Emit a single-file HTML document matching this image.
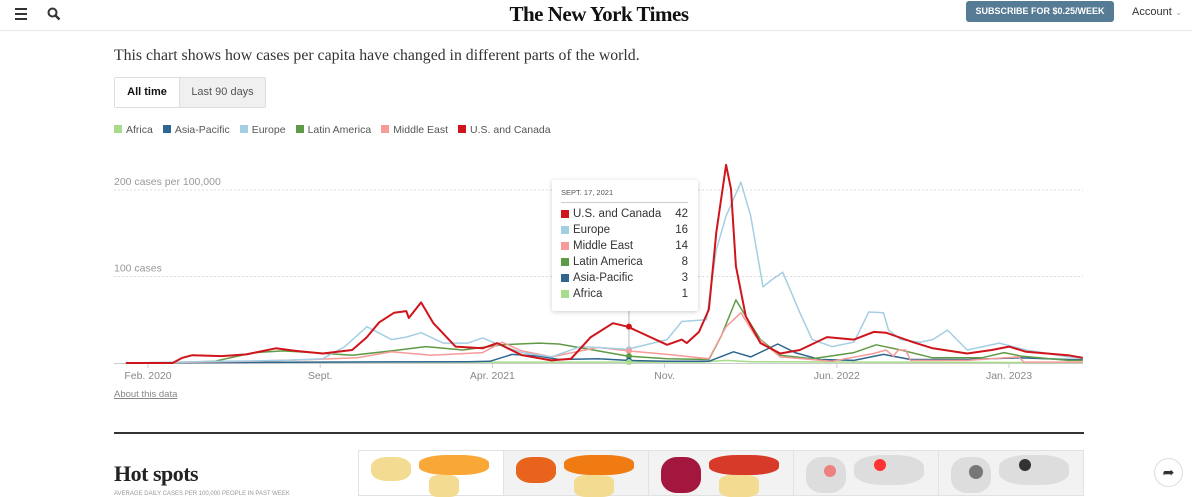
<!DOCTYPE html>
<html><head><meta charset="utf-8">
<style>
*{margin:0;padding:0;box-sizing:border-box}
body{width:1192px;height:496px;overflow:hidden;background:#fff;font-family:"Liberation Sans",Arial,sans-serif;position:relative}
.abs{position:absolute}
</style></head><body>
<div class="abs" style="left:0;top:0;width:1192px;height:31px;border-bottom:1px solid #e8e8e8;background:#fff;z-index:2">
  <div class="abs" style="left:15px;top:8px;width:12px;height:12px">
    <div style="height:2px;background:#333;margin-bottom:3px"></div><div style="height:2px;background:#333;margin-bottom:3px"></div><div style="height:2px;background:#333"></div>
  </div>
  <svg class="abs" style="left:47px;top:7px" width="14" height="14" viewBox="0 0 14 14"><circle cx="5.5" cy="5.5" r="4" fill="none" stroke="#333" stroke-width="2"/><line x1="8.5" y1="8.5" x2="12.5" y2="12.5" stroke="#333" stroke-width="2.4"/></svg>
  <div class="abs" style="left:480px;top:2px;width:238px;text-align:center;font-family:'Liberation Serif',serif;font-weight:bold;font-size:21px;color:#111;letter-spacing:-0.5px">The New York Times</div>
  <div class="abs" style="left:966px;top:1px;width:148px;height:21px;background:#567b95;border-radius:3px;color:#fff;font-size:9px;font-weight:bold;text-align:center;line-height:21px">SUBSCRIBE FOR $0.25/WEEK</div>
  <div class="abs" style="left:1132px;top:6px;font-size:11px;color:#333">Account <span style="color:#aaa;font-size:9px">⌄</span></div>
</div>
<div class="abs" style="left:114px;top:47px;font-family:'Liberation Serif',serif;font-size:15.8px;color:#333">This chart shows how cases per capita have changed in different parts of the world.</div>
<div class="abs" style="left:114px;top:77px;width:152px;height:31px;border:1px solid #ddd;border-radius:2px;display:flex;font-size:11px">
  <div style="width:64px;text-align:center;line-height:29px;font-weight:bold;color:#111;background:#fff">All time</div>
  <div style="flex:1;text-align:center;line-height:29px;color:#555;background:#f0f0f0;border-left:1px solid #ddd">Last 90 days</div>
</div>
<div class="abs" style="left:114px;top:124px;font-size:10.5px;color:#555;display:flex;gap:10px;white-space:nowrap">
  <span><i style="display:inline-block;width:8px;height:8px;background:#a6dc8a;margin-right:4px"></i>Africa</span>
  <span><i style="display:inline-block;width:8px;height:8px;background:#2f6690;margin-right:4px"></i>Asia-Pacific</span>
  <span><i style="display:inline-block;width:8px;height:8px;background:#a5cee3;margin-right:4px"></i>Europe</span>
  <span><i style="display:inline-block;width:8px;height:8px;background:#5f9b46;margin-right:4px"></i>Latin America</span>
  <span><i style="display:inline-block;width:8px;height:8px;background:#f69a9a;margin-right:4px"></i>Middle East</span>
  <span><i style="display:inline-block;width:8px;height:8px;background:#d0141b;margin-right:4px"></i>U.S. and Canada</span>
</div>
<svg id="chart" class="abs" style="left:0;top:0" width="1192" height="420"></svg>
<div class="abs" style="left:552px;top:180px;width:146px;height:131px;background:#fff;box-shadow:0 1px 5px rgba(0,0,0,0.2);border-radius:2px;font-size:11px;color:#333;padding:8px 10px 0 9px">
  <div style="font-size:7.5px;color:#555;padding-bottom:5px;border-bottom:1px solid #ccc;margin-bottom:3px">SEPT. 17, 2021</div>
  <div id="ttrows"></div>
</div>
<div class="abs" style="left:114px;top:389px;font-size:9.5px;color:#888;text-decoration:underline">About this data</div>
<div class="abs" style="left:114px;top:432px;width:970px;height:2px;background:#333"></div>
<div class="abs" style="left:114px;top:461px;font-family:'Liberation Serif',serif;font-size:22px;font-weight:bold;color:#222;letter-spacing:-0.5px">Hot spots</div>
<div class="abs" style="left:114px;top:491px;font-size:6px;color:#999">AVERAGE DAILY CASES PER 100,000 PEOPLE IN PAST WEEK</div>
<div class="abs" style="left:358px;top:450px;width:726px;height:46px;display:flex;border:1px solid #e2e2e2">
  <div style="flex:1;background:#fff;position:relative;border-right:1px solid #e2e2e2"><i class="abs" style="left:12px;top:6px;width:40px;height:24px;background:#f3dc92;border-radius:40%"></i><i class="abs" style="left:60px;top:4px;width:70px;height:20px;background:#f9a838;border-radius:40%"></i><i class="abs" style="left:70px;top:24px;width:30px;height:22px;background:#f3dc92;border-radius:30%"></i></div>
  <div style="flex:1;background:#f2f2f2;position:relative;border-right:1px solid #e2e2e2"><i class="abs" style="left:12px;top:6px;width:40px;height:26px;background:#e8641d;border-radius:40%"></i><i class="abs" style="left:60px;top:4px;width:70px;height:20px;background:#f07b12;border-radius:40%"></i><i class="abs" style="left:70px;top:24px;width:40px;height:22px;background:#f3dc92;border-radius:30%"></i></div>
  <div style="flex:1;background:#f2f2f2;position:relative;border-right:1px solid #e2e2e2"><i class="abs" style="left:12px;top:6px;width:40px;height:36px;background:#a3173e;border-radius:40%"></i><i class="abs" style="left:60px;top:4px;width:70px;height:20px;background:#d83a2a;border-radius:40%"></i><i class="abs" style="left:70px;top:24px;width:40px;height:22px;background:#f3dc92;border-radius:30%"></i></div>
  <div style="flex:1;background:#f2f2f2;position:relative;border-right:1px solid #e2e2e2"><i class="abs" style="left:12px;top:6px;width:40px;height:36px;background:#ddd;border-radius:40%"></i><i class="abs" style="left:60px;top:4px;width:70px;height:30px;background:#ddd;border-radius:40%"></i><i class="abs" style="left:30px;top:14px;width:12px;height:12px;background:#ef8080;border-radius:50%"></i><i class="abs" style="left:80px;top:8px;width:12px;height:12px;background:#f33;border-radius:50%"></i></div>
  <div style="flex:1;background:#f2f2f2;position:relative"><i class="abs" style="left:12px;top:6px;width:40px;height:36px;background:#ddd;border-radius:40%"></i><i class="abs" style="left:60px;top:4px;width:70px;height:30px;background:#ddd;border-radius:40%"></i><i class="abs" style="left:30px;top:14px;width:14px;height:14px;background:#777;border-radius:50%"></i><i class="abs" style="left:80px;top:8px;width:12px;height:12px;background:#333;border-radius:50%"></i></div>
</div>
<div class="abs" style="left:1154px;top:458px;width:29px;height:29px;border:1px solid #ddd;border-radius:50%;text-align:center;line-height:27px;font-size:14px;color:#333">➦</div>
<script>
const months = ["Feb. 2020","Sept.","Apr. 2021","Nov.","Jun. 2022","Jan. 2023"];
const monthTicks = [1,8,15,22,29,36];
const gridValues = [100,200];
const gridLabels = ["100 cases","200 cases per 100,000"];
// [monthIndex since Jan 2020, cases per 100k]
const africa = [[0.1,0],[3,0.5],[6,1],[12,1],[18,1],[20.5,1],[23.5,1],[24.5,3],[25.5,1.5],[30,1],[39,0.5]];
const asiaPacific = [[0.1,0],[3,0.5],[8,1],[14,1.5],[14.9,2],[15.8,10],[16.9,8],[17.7,4],[19.3,5],[20.5,3],[22.1,2],[23.8,2],[24.8,13],[25.5,7],[26.6,22],[27.3,12],[28.3,4],[29.7,3],[30.9,10],[32,4],[34.3,4],[36.4,6],[38.4,4],[39,4]];
const europe = [[0.1,0],[2,1],[4,2],[6.5,3],[8.1,5],[9,19],[9.9,42],[10.9,27],[11.5,30],[12.1,35],[13,23],[14,23],[14.6,29],[15.2,22],[16.2,12],[17.4,7],[18.6,19],[20.5,16],[22.1,27],[22.7,48],[23.7,50],[24.1,131],[24.5,170],[25.1,209],[25.5,170],[26,88],[26.3,95],[26.8,105],[27.5,58],[28,27],[28.8,19],[29.7,24],[30.3,59],[30.9,58],[31.1,38],[31.6,27],[32.4,24],[32.9,27],[33.5,38],[34.3,15],[35.6,23],[36.7,15],[38.4,7],[39,6]];
const latinAmerica = [[0.1,0],[2,0.5],[3.7,2],[5.3,12],[6.5,14],[7.7,12],[9.3,9],[10.9,14],[12.3,19],[13.8,15],[15.4,21],[16.9,23],[17.7,22],[19.3,14],[20.5,8],[22.1,5],[23.8,4],[24.3,31],[24.9,73],[25.3,54],[25.9,27],[26.7,9],[28,5],[29.7,12],[30.6,21],[31.6,15],[32.9,6],[34.9,6],[35.8,12],[36.5,8],[38.4,3],[39,3]];
const middleEast = [[0.1,0],[3,1],[5,2],[7.7,4],[9.5,6],[10.9,13],[12.5,9],[14.6,12],[15.4,24],[16.2,14],[17.4,7],[19.3,18],[20.5,14],[22.1,10],[23.8,5],[24.5,42],[25.1,58],[25.7,31],[26.7,7],[28.8,2],[30.5,11],[31,15],[31.3,8],[31.5,15],[31.8,15],[32,3],[34.3,3],[36.4,7],[36.6,1],[39,1]];
const usCanada = [[0.1,0],[2,0],[2.4,6],[2.8,9],[4,8],[5,10],[6.2,17],[7,14],[8.1,11],[9.3,15],[9.9,30],[10.4,47],[11,58],[11.5,60],[11.6,52],[12.1,70],[12.6,46],[13.5,19],[14.6,17],[15.2,23],[16.2,9],[17.4,3],[18.2,5],[19,30],[19.9,46],[20.5,42],[22.1,21],[22.7,27],[22.9,23],[23.4,36],[23.8,62],[24.1,151],[24.5,229],[24.7,201],[24.9,112],[25.3,54],[25.9,23],[26.7,11],[27.5,15],[28.6,30],[29.7,27],[30.5,36],[31,35],[32.1,24],[32.9,17],[34.3,11],[35.3,15],[36,19],[36.7,13],[38.4,9],[39,6]];
const tooltipNames = ["U.S. and Canada","Europe","Middle East","Latin America","Asia-Pacific","Africa"];
const tooltipValues = [42,16,14,8,3,1];
const tooltipColors = ["#d0141b","#a5cee3","#f69a9a","#5f9b46","#2f6690","#a6dc8a"];
const tooltipMonth = 20.55;

const X = m => 148 + (m - 1) * 24.6;
const Y = v => 363 - v * 0.865;
const svg = document.getElementById('chart');
const NS = 'http://www.w3.org/2000/svg';
function mk(tag, attrs){const e=document.createElementNS(NS,tag);for(const k in attrs)e.setAttribute(k,attrs[k]);svg.appendChild(e);return e;}
gridValues.forEach((v,i)=>{
  const l=mk('line',{x1:114,x2:1083,y1:Y(v),y2:Y(v),stroke:'#ddd','stroke-dasharray':'2,2'});
  
  
  const t=mk('text',{x:114,y:Y(v)-5,'font-size':'10.5',fill:'#999','font-family':'Liberation Sans, sans-serif'});
  t.textContent=gridLabels[i];
  
  
});
const base=mk('line',{x1:114,x2:1083,y1:363.5,y2:363.5,stroke:'#ccc'});


monthTicks.forEach((m,i)=>{
  const tk=mk('line',{x1:X(m),x2:X(m),y1:363,y2:368,stroke:'#ccc'});
  
  
  const t=mk('text',{x:X(m),y:379,'font-size':'10.5',fill:'#888','text-anchor':'middle','font-family':'Liberation Sans, sans-serif'});
  t.textContent=months[i];
  
  
});
const vl=mk('line',{x1:X(tooltipMonth),x2:X(tooltipMonth),y1:311,y2:363,stroke:'#bbb'});


const series=[['africa',africa,'#a6dc8a',1.5],['asia-pacific',asiaPacific,'#2f6690',1.5],['latin-america',latinAmerica,'#5f9b46',1.5],['middle-east',middleEast,'#f69a9a',1.5],['europe',europe,'#a5cee3',1.5],['us-canada',usCanada,'#d0141b',2]];
series.forEach(s=>{
  const d=s[1].map((p,i)=>(i?'L':'M')+X(p[0]).toFixed(1)+','+Y(p[1]).toFixed(1)).join('');
  const p=mk('path',{d:d,fill:'none',stroke:s[2],'stroke-width':s[3],'stroke-linejoin':'round'});
  
  
});
tooltipValues.forEach((v,i)=>{
  const c=mk('circle',{cx:X(tooltipMonth),cy:Y(v),r:3,fill:tooltipColors[i]});
  
  
});
const rows=document.getElementById('ttrows');
tooltipNames.forEach((n,i)=>{
  const r=document.createElement('div');
  
  
  r.style.cssText='display:flex;align-items:center;height:16px;font-size:11.5px';
  r.innerHTML='<i style="display:inline-block;width:8px;height:8px;background:'+tooltipColors[i]+';margin-right:4px"></i><span style="flex:1">'+n+'</span><span>'+tooltipValues[i]+'</span>';
  rows.appendChild(r);
});
</script>
</body></html>
